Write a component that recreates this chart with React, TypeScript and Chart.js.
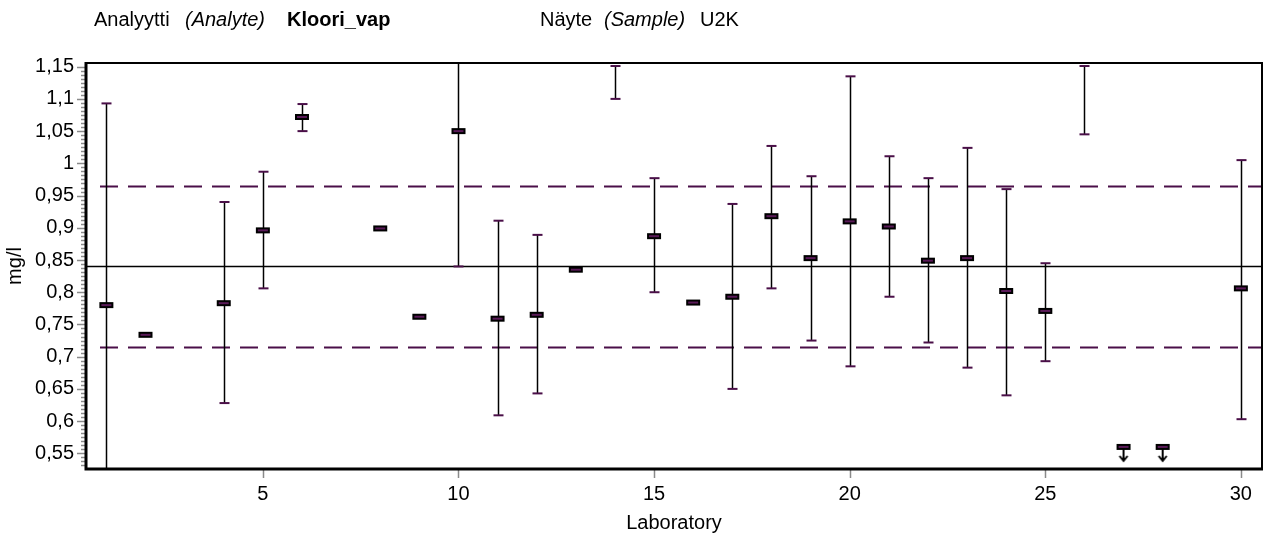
import React, { useEffect, useRef } from 'react';
import { Chart, registerables } from 'chart.js';

Chart.register(...registerables);

// Laboratory results with expanded-uncertainty limits (null = not reported / off scale)
const labs = [1, 2, 4, 5, 6, 8, 9, 10, 11, 12, 13, 14, 15, 16, 17, 18, 19, 20, 21, 22, 23, 24, 25, 26, 30];
const results = [0.78, 0.734, 0.783, 0.896, 1.072, 0.899, 0.762, 1.05, 0.759, 0.765, 0.835, null, 0.887, 0.784, 0.793, 0.918, 0.853, 0.91, 0.902, 0.849, 0.853, 0.802, 0.771, null, 0.806];
const lowerLimits = [0.467, null, 0.628, 0.806, 1.05, null, null, 0.84, 0.609, 0.643, null, 1.1, 0.8, null, 0.65, 0.806, 0.725, 0.685, 0.793, 0.722, 0.683, 0.64, 0.693, 1.045, 0.603];
const upperLimits = [1.093, null, 0.94, 0.987, 1.092, null, null, 1.26, 0.911, 0.889, null, 1.151, 0.977, null, 0.937, 1.027, 0.98, 1.135, 1.011, 0.977, 1.024, 0.96, 0.845, 1.151, 1.005];

// Results below the displayed range, marked with a down arrow
const belowRangeLabs = [27, 28];
const belowRangeValues = [0.56, 0.56];

// Assigned value and tolerance limits
const assignedValue = 0.84;
const lowerTolerance = 0.715;
const upperTolerance = 0.965;

// Axis ticks
const xTickValues = [5, 10, 15, 20, 25, 30];
const yTickValues = [0.55, 0.6, 0.65, 0.7, 0.75, 0.8, 0.85, 0.9, 0.95, 1, 1.05, 1.1, 1.15];
const yTickLabels = ['0,55', '0,6', '0,65', '0,7', '0,75', '0,8', '0,85', '0,9', '0,95', '1', '1,05', '1,1', '1,15'];
const yMinorStep = 0.00625;

const FONT = '"Liberation Sans", Arial, sans-serif';
const PURPLE = '#4a0f48';

function makeMarker(): HTMLCanvasElement {
  const c = document.createElement('canvas');
  c.width = 16;
  c.height = 8;
  const g = c.getContext('2d')!;
  g.fillStyle = '#000';
  g.fillRect(1, 1, 14, 6);
  g.fillStyle = '#5a1a58';
  g.fillRect(3, 3, 10, 2);
  return c;
}

function makeArrowMarker(): HTMLCanvasElement {
  const c = document.createElement('canvas');
  c.width = 16;
  c.height = 36;
  const g = c.getContext('2d')!;
  g.fillStyle = '#000';
  g.fillRect(1, 15, 14, 6);
  g.fillStyle = '#5a1a58';
  g.fillRect(3, 17, 10, 2);
  g.strokeStyle = '#000';
  g.lineWidth = 2;
  g.beginPath();
  g.moveTo(8, 21);
  g.lineTo(8, 32);
  g.moveTo(4, 27);
  g.lineTo(8, 32);
  g.lineTo(12, 27);
  g.stroke();
  return c;
}

const backgroundPlugin = {
  id: 'referenceAndErrorBars',
  beforeDatasetsDraw(chart: any) {
    const { ctx, chartArea: a, scales } = chart;
    const xs = scales.x;
    const ys = scales.y;
    ctx.save();
    ctx.beginPath();
    ctx.rect(a.left, a.top, a.right - a.left, a.bottom - a.top);
    ctx.clip();

    // tolerance limits
    ctx.strokeStyle = PURPLE;
    ctx.lineWidth = 2;
    ctx.setLineDash([18, 10]);
    for (const v of [upperTolerance, lowerTolerance]) {
      const y = Math.round(ys.getPixelForValue(v)) + 0.5;
      ctx.beginPath();
      ctx.moveTo(a.left + 14, y);
      ctx.lineTo(a.right, y);
      ctx.stroke();
    }
    ctx.setLineDash([]);

    // assigned value
    ctx.strokeStyle = '#000';
    ctx.lineWidth = 1.5;
    const yc = ys.getPixelForValue(assignedValue);
    ctx.beginPath();
    ctx.moveTo(a.left, yc);
    ctx.lineTo(a.right, yc);
    ctx.stroke();

    // error bars
    labs.forEach((lab, i) => {
      const lo = lowerLimits[i];
      const hi = upperLimits[i];
      if (lo == null || hi == null) return;
      const x = Math.round(xs.getPixelForValue(lab)) + 0.5;
      const y1 = ys.getPixelForValue(lo);
      const y2 = ys.getPixelForValue(hi);
      ctx.strokeStyle = '#000';
      ctx.lineWidth = 1.5;
      ctx.beginPath();
      ctx.moveTo(x, y1);
      ctx.lineTo(x, y2);
      ctx.stroke();
      ctx.strokeStyle = PURPLE;
      ctx.lineWidth = 2;
      for (const yy of [y1, y2]) {
        if (yy < a.top || yy > a.bottom) continue;
        ctx.beginPath();
        ctx.moveTo(x - 5, yy);
        ctx.lineTo(x + 5, yy);
        ctx.stroke();
      }
    });
    ctx.restore();
  },
  afterDraw(chart: any) {
    const { ctx, chartArea: a, scales } = chart;
    const xs = scales.x;
    const ys = scales.y;
    ctx.save();

    // y ticks: minor and major
    ctx.strokeStyle = '#8a8a8a';
    ctx.lineWidth = 1.5;
    const first = yTickValues[0];
    for (let k = -10; k < 200; k++) {
      const v = first + k * yMinorStep;
      if (v < ys.min || v > ys.max) continue;
      const y = Math.round(ys.getPixelForValue(v)) + 0.5;
      const major = k % 8 === 0;
      ctx.beginPath();
      ctx.moveTo(a.left - (major ? 9 : 5), y);
      ctx.lineTo(a.left, y);
      ctx.stroke();
    }

    // x ticks
    xTickValues.forEach((v) => {
      const x = Math.round(xs.getPixelForValue(v)) + 0.5;
      ctx.beginPath();
      ctx.moveTo(x, a.bottom);
      ctx.lineTo(x, a.bottom + 9);
      ctx.stroke();
    });

    // frame
    ctx.strokeStyle = '#000';
    ctx.lineWidth = 2;
    ctx.beginPath();
    ctx.moveTo(a.left, a.top);
    ctx.lineTo(a.right, a.top);
    ctx.lineTo(a.right, a.bottom);
    ctx.stroke();
    ctx.lineWidth = 3;
    ctx.beginPath();
    ctx.moveTo(a.left, a.top - 1);
    ctx.lineTo(a.left, a.bottom);
    ctx.lineTo(a.right + 1, a.bottom);
    ctx.stroke();

    // tick labels
    ctx.fillStyle = '#000';
    ctx.font = `20px ${FONT}`;
    ctx.textAlign = 'right';
    ctx.textBaseline = 'middle';
    yTickValues.forEach((v, i) => {
      ctx.fillText(yTickLabels[i], a.left - 12, ys.getPixelForValue(v));
    });
    ctx.textAlign = 'center';
    xTickValues.forEach((v) => {
      ctx.fillText(String(v), xs.getPixelForValue(v), a.bottom + 25);
    });

    // axis titles
    ctx.fillText('Laboratory', (a.left + a.right) / 2, a.bottom + 54);
    ctx.save();
    ctx.translate(15, (a.top + a.bottom) / 2);
    ctx.rotate(-Math.PI / 2);
    ctx.fillText('mg/l', 0, 0);
    ctx.restore();

    // header
    ctx.textAlign = 'left';
    ctx.textBaseline = 'alphabetic';
    const header: [string, string, number][] = [
      ['Analyytti', '', 94],
      ['(Analyte)', 'italic ', 185],
      ['Kloori_vap', 'bold ', 287],
      ['Näyte', '', 540],
      ['(Sample)', 'italic ', 604],
      ['U2K', '', 700],
    ];
    header.forEach(([t, style, x]) => {
      ctx.font = `${style}20px ${FONT}`;
      ctx.fillText(t, x, 26);
    });
    ctx.restore();
  },
};

export default function App() {
  const ref = useRef<HTMLCanvasElement>(null);

  useEffect(() => {
    const canvas = ref.current;
    if (!canvas) return;
    const marker = makeMarker();
    const arrowMarker = makeArrowMarker();
    const points = labs
      .map((lab, i) => ({ x: lab, y: results[i] }))
      .filter((p) => p.y != null);
    const below = belowRangeLabs.map((lab, i) => ({ x: lab, y: belowRangeValues[i] }));

    const chart = new Chart(canvas, {
      type: 'scatter',
      data: {
        datasets: [
          { data: points as any, pointStyle: marker, pointRadius: 7, showLine: false },
          { data: below as any, pointStyle: arrowMarker, pointRadius: 7, showLine: false },
        ],
      },
      options: {
        animation: false,
        responsive: false,
        devicePixelRatio: 1,
        layout: { padding: { left: 86, top: 63, right: 9, bottom: 69 } },
        plugins: { legend: { display: false }, tooltip: { enabled: false } },
        scales: {
          x: { type: 'linear', min: 0.48, max: 30.54, display: false },
          y: { type: 'linear', min: 0.5257, max: 1.1557, display: false },
        },
      },
      plugins: [backgroundPlugin],
    });
    return () => chart.destroy();
  }, []);

  return (
    <div style={{ position: 'absolute', left: 0, top: 0, width: 1271, height: 538, background: '#fff' }}>
      <canvas ref={ref} width={1271} height={538} style={{ width: 1271, height: 538, display: 'block' }} />
    </div>
  );
}
